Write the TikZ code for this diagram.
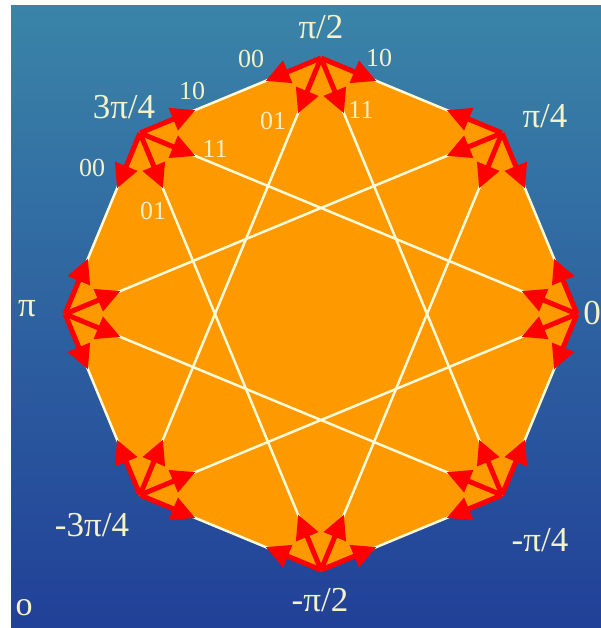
\documentclass[tikz,border=0pt]{standalone}
\usepackage{fontspec}
\setmainfont{Liberation Serif}
\usetikzlibrary{arrows.meta,calc}
\definecolor{bgtop}{RGB}{58,132,168}
\definecolor{bgbot}{RGB}{33,64,152}
\definecolor{octfill}{RGB}{255,153,0}
\definecolor{labelcol}{RGB}{245,241,200}
\definecolor{wirecol}{RGB}{255,250,215}

\begin{document}
\begin{tikzpicture}[x=1pt,y=1pt,
    wire/.style={draw=wirecol,line width=2.5pt},
    trans/.style={red,line width=5pt,-{Triangle[length=24pt,width=23pt]}},
    phase/.style={text=labelcol,inner sep=0pt,font=\fontsize{35}{35}\selectfont},
    bits/.style={text=labelcol,inner sep=0pt,font=\fontsize{26}{26}\selectfont}]
    \useasboundingbox (0,0) rectangle (601,628);
    \shade[top color=bgtop,bottom color=bgbot] (11,0) rectangle (601,622);

    \coordinate (C) at (321,314);
    \foreach \i in {0,...,7}
        \coordinate (v\i) at ($(C)+(\i*45:256)$);

    \fill[octfill] (v0) -- (v1) -- (v2) -- (v3) -- (v4) -- (v5) -- (v6) -- (v7) -- cycle;

    % sides and the 8/3 star
    \foreach \i in {0,...,7} {
        \pgfmathtruncatemacro\a{mod(\i+1,8)}
        \pgfmathtruncatemacro\b{mod(\i+3,8)}
        \draw[wire] (v\i) -- (v\a);
        \draw[wire] (v\i) -- (v\b);
    }

    % phase steps +-pi/4, +-3pi/4 out of every point
    \foreach \i in {0,...,7}
        \foreach \d in {1,3,5,7} {
            \pgfmathtruncatemacro\j{mod(\i+\d,8)}
            \draw[trans] (v\i) -- ($(v\i)!60pt!(v\j)$);
        }

    \node[phase] (p0) at (592,315) {0};
    \node[phase] (p1) at (545,512) {π/4};
    \node[phase] (p2) at (321,601) {π/2};
    \node[phase] (p3) at (124,521) {3π/4};
    \node[phase] (p4) at (27,319) {π};
    \node[phase] (p5) at (92,103) {-3π/4};
    \node[phase] (p6) at (320,28) {-π/2};
    \node[phase] (p7) at (540,88) {-π/4};

    \node[bits] (b2a) at (251,569) {00};
    \node[bits] (b2b) at (379,570) {10};
    \node[bits] (b2c) at (273,507) {01};
    \node[bits] (b2d) at (361,518) {11};
    \node[bits] (b3a) at (192,537) {10};
    \node[bits] (b3b) at (92,460) {00};
    \node[bits] (b3c) at (153,417) {01};
    \node[bits] (b3d) at (215,479) {11};

    \node[text=labelcol,inner sep=0pt,font=\fontsize{34}{34}\selectfont] (frag) at (24,20) {o};
\end{tikzpicture}
\end{document}
